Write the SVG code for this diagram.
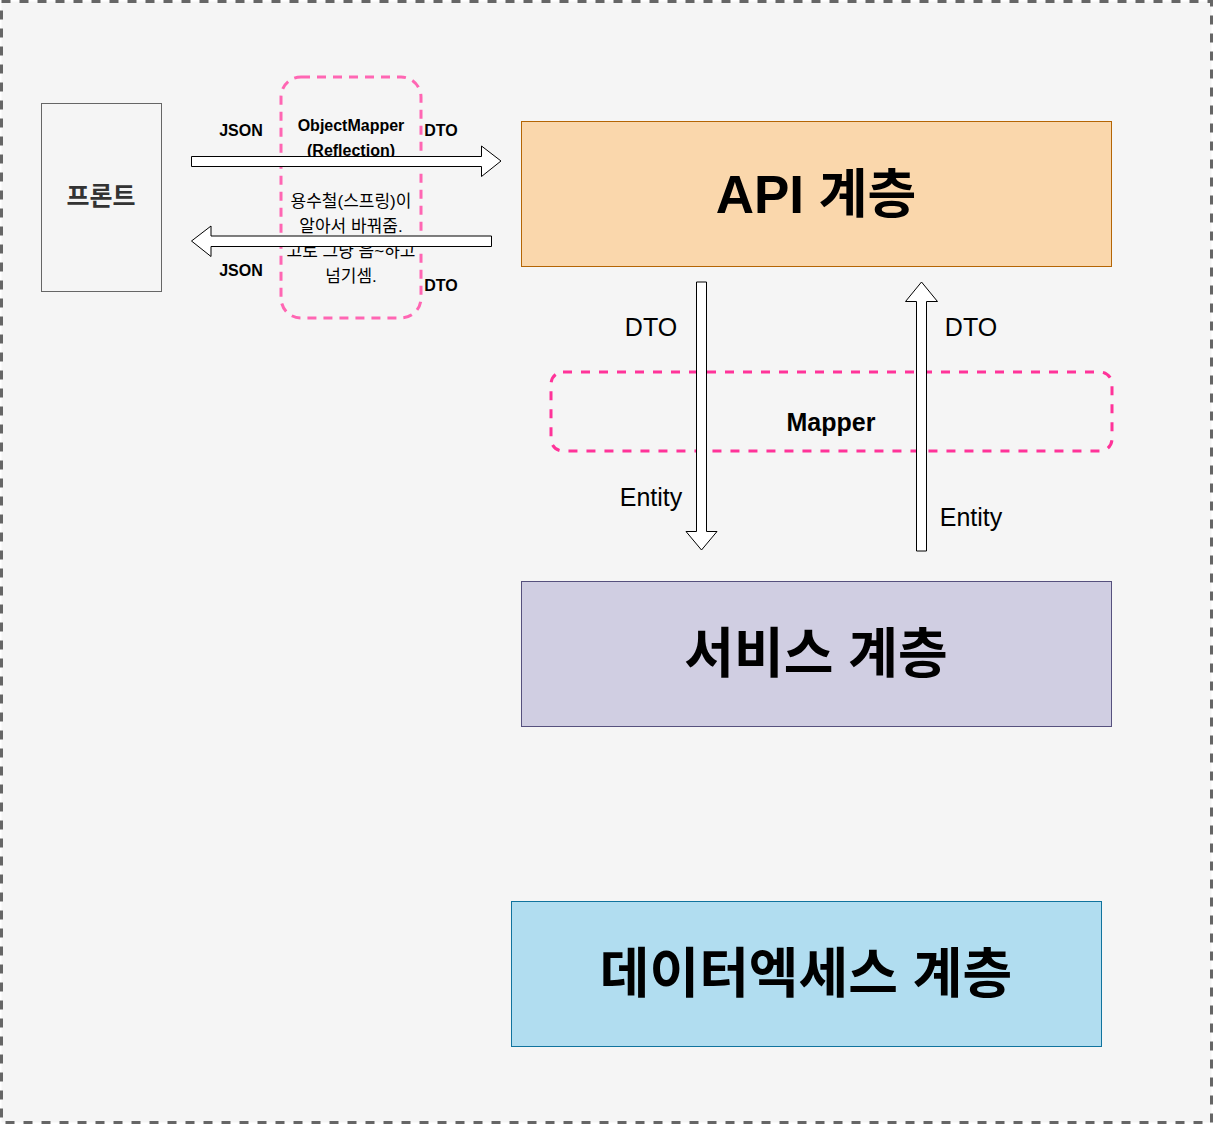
<svg xmlns="http://www.w3.org/2000/svg" width="1213" height="1124" viewBox="0 0 1213 1124">
<style>
.t{font-family:"Liberation Sans","Noto Sans CJK KR",sans-serif;text-anchor:middle;dominant-baseline:central;fill:#000}
.b{font-weight:bold}
.arr{fill:#fff;stroke:#000;stroke-width:1}
</style>
<rect x="1.5" y="1.5" width="1210" height="1121" fill="#f5f5f5" stroke="#666" stroke-width="3" stroke-dasharray="9 9"/>
<g id="front">
<rect x="41.5" y="103.5" width="120" height="188" fill="#f5f5f5" stroke="#666" stroke-width="1"/>
<text class="t b" x="101" y="196" font-size="25" style="fill:#333">프론트</text>
</g>
<g id="objectmapper">
<rect x="281" y="77" width="140" height="241" rx="20" fill="none" stroke="#ff66b3" stroke-width="3" stroke-dasharray="9 7"/>
<text class="t b" x="351" y="125" font-size="16">ObjectMapper</text>
<text class="t b" x="351" y="150" font-size="16">(Reflection)</text>
<text class="t" x="351" y="201" font-size="17">용수철(스프링)이</text>
<text class="t" x="351" y="226" font-size="17">알아서 바꿔줌.</text>
<text class="t" x="351" y="251" font-size="17">고로 그냥 음~하고</text>
<text class="t" x="351" y="276" font-size="17">넘기셈.</text>
</g>
<g id="api">
<rect x="521.5" y="121.5" width="590" height="145" fill="#fad7ac" stroke="#b46504" stroke-width="1"/>
<text class="t b" x="816" y="194" font-size="53">API 계층</text>
</g>
<g id="service">
<rect x="521.5" y="581.5" width="590" height="145" fill="#d0cee2" stroke="#56517e" stroke-width="1"/>
<text class="t b" x="816" y="654" font-size="54">서비스 계층</text>
</g>
<g id="dataaccess">
<rect x="511.5" y="901.5" width="590" height="145" fill="#b1ddf0" stroke="#10739e" stroke-width="1"/>
<text class="t b" x="806" y="974" font-size="54">데이터엑세스 계층</text>
</g>
<g id="mapper">
<rect x="551" y="372" width="561" height="79" rx="12" fill="none" stroke="#ff3399" stroke-width="3" stroke-dasharray="9 9"/>
<text class="t b" x="831" y="422" font-size="25">Mapper</text>
</g>
<g id="connectors">
<path class="arr" d="M191.5 156.5 H481.5 V146 L501 161 L481.5 176.5 V166.5 H191.5 Z"/>
<path class="arr" d="M491.5 236 H211 V226 L191.5 241 L211 256.5 V246.5 H491.5 Z"/>
<path class="arr" d="M696.5 282 H706.5 V531.5 H717 L701.5 550 L686 531.5 H696.5 Z"/>
<path class="arr" d="M916.5 551 H926.5 V301.5 H937.5 L921.5 282 L905.5 301.5 H916.5 Z"/>
<text class="t b" x="241" y="130" font-size="16">JSON</text>
<text class="t b" x="441" y="130" font-size="16">DTO</text>
<text class="t b" x="241" y="270" font-size="16">JSON</text>
<text class="t b" x="441" y="285" font-size="16">DTO</text>
<text class="t" x="651" y="327" font-size="25">DTO</text>
<text class="t" x="651" y="497" font-size="25">Entity</text>
<text class="t" x="971" y="327" font-size="25">DTO</text>
<text class="t" x="971" y="517" font-size="25">Entity</text>
</g>
</svg>
